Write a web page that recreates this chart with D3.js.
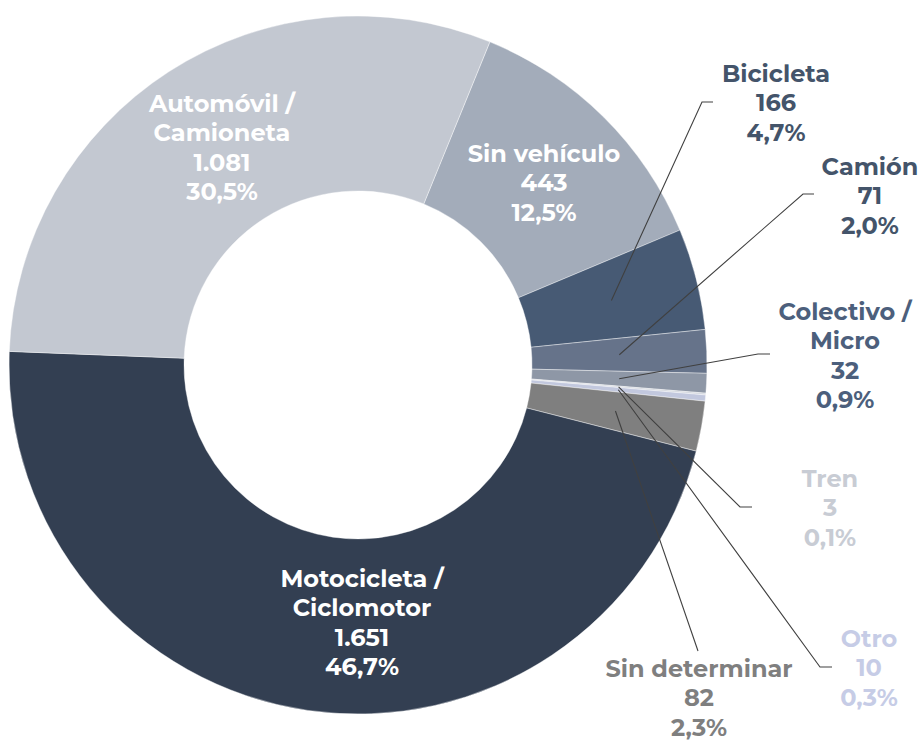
<!DOCTYPE html>
<html>
<head>
    <meta charset="utf-8">
    <title>Vehículos por tipo</title>
    <style>
    /* page + label styles */
        body{
            margin: 0;
            background: #fff;
        }
        svg{
            display: block;
        }
        .lbl{
            font-family: 'Montserrat', 'Open Sans', sans-serif;
            font-weight: 700;
            font-size: 24px;
        }
    </style>
</head>
<body>
<div id="chart"></div>

<script src="https://d3js.org/d3.v7.min.js"></script>
<script>
// data, in the order the slices run clockwise
var categories = ["Sin vehículo", "Bicicleta", "Camión", "Colectivo / Micro", "Tren",
                  "Otro", "Sin determinar", "Motocicleta / Ciclomotor", "Automóvil / Camioneta"];
var values     = [443, 166, 71, 32, 3, 10, 82, 1651, 1081];

var sliceColors = ["#a3acba", "#475a74", "#66738a", "#8e97a6", "#d3d7de",
                   "#c2c8de", "#7f7f7f", "#333f52", "#c3c8d1"];
var textColors  = ["#ffffff", "#44546a", "#44546a", "#4c5f7c", "#c8ccd4",
                   "#c6cce6", "#7f7f7f", "#ffffff", "#ffffff"];

// where the labels sit (manually placed, like the original)
// x = text centre, y = first baseline, elbow = where leader line bends, tail = horizontal bit
var labelPos = {
    "Sin vehículo":             {x: 544, y: 162},
    "Bicicleta":                {x: 776, y: 82,  elbow: [702, 102], tail: 11},
    "Camión":                   {x: 870, y: 175, elbow: [803, 194], tail: 11},
    "Colectivo / Micro":        {x: 845, y: 320, elbow: [758, 354], tail: 12},
    "Tren":                     {x: 830, y: 487, elbow: [740, 507], tail: 12},
    "Otro":                     {x: 869, y: 647, elbow: [820, 667], tail: 12},
    "Sin determinar":           {x: 699, y: 677, elbow: [698, 651], tail: 0},
    "Motocicleta / Ciclomotor": {x: 362, y: 587},
    "Automóvil / Camioneta":    {x: 222, y: 112}
};

var width = 921, height = 742,
    cx = 358, cy = 365,
    outerR = 349, innerR = 174,
    lineH = 29.3;

var locale = d3.formatLocale({decimal: ",", thousands: ".", grouping: [3], currency: ["$", ""]});
var fmtN = locale.format(",d"),
    fmtP = locale.format(".1%");

var data = categories.map(function(c, i){
    return {name: c, value: values[i], color: sliceColors[i], text: textColors[i]};
});
var total = d3.sum(values);

var start = 22.2 * Math.PI / 180;
var pie = d3.pie()
    .sort(null)
    .value(function(d){ return d.value; })
    .startAngle(start)
    .endAngle(start + 2 * Math.PI);

var arc = d3.arc().innerRadius(innerR).outerRadius(outerR);
var midArc = d3.arc().innerRadius((innerR + outerR) / 2).outerRadius((innerR + outerR) / 2);

var svg = d3.select("#chart")
    .append("svg")
    .attr("width", width)
    .attr("height", height);

var g = svg.append("g").attr("transform", "translate(" + cx + "," + cy + ")");

var arcs = pie(data);

g.selectAll("path.slice")
    .data(arcs)
    .enter()
    .append("path")
    .attr("class", "slice")
    .attr("d", arc)
    .style("fill", function(d){ return d.data.color; })
    .style("stroke", "#ffffff")
    .style("stroke-width", 0.4);

// leader lines for the small slices
arcs.forEach(function(d){
    var p = labelPos[d.data.name];
    if(!p.elbow){ return; }
    var c = midArc.centroid(d);
    var pts = [[c[0] + cx, c[1] + cy], p.elbow];
    if(p.tail){ pts.push([p.elbow[0] + p.tail, p.elbow[1]]); }
    svg.append("path")
        .attr("d", d3.line()(pts))
        .style("fill", "none")
        .style("stroke", "#404040")
        .style("stroke-width", 1.1);
});

// labels: name (split after "/"), count, percentage
arcs.forEach(function(d){
    var p = labelPos[d.data.name];
    var lines = d.data.name.split(" / ");
    if(lines.length > 1){ lines[0] = lines[0] + " /"; }
    lines.push(fmtN(d.data.value));
    lines.push(fmtP(d.data.value / total));

    var t = svg.append("text")
        .attr("class", "lbl")
        .attr("text-anchor", "middle")
        .style("fill", d.data.text);
    lines.forEach(function(s, i){
        t.append("tspan")
            .attr("x", p.x)
            .attr("y", p.y + i * lineH)
            .text(s);
    });
});
</script>
</body>
</html>
